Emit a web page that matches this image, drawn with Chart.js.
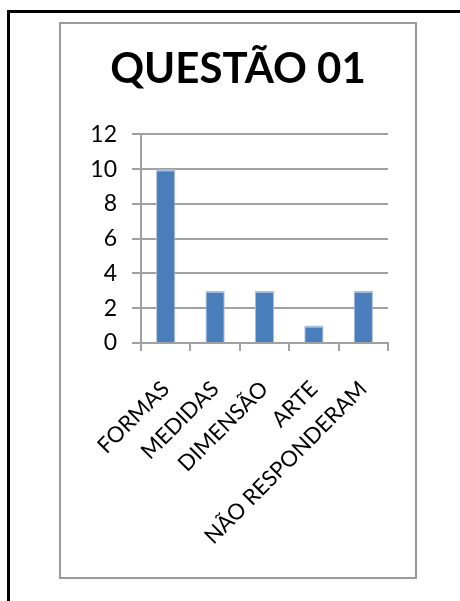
<!DOCTYPE html>
<html>
<head>
<meta charset="utf-8">
<script src="https://cdn.jsdelivr.net/npm/chart.js@4"></script>
<style>
  html, body { margin: 0; padding: 0; background: #fff; }
  body { width: 460px; height: 601px; position: relative; overflow: hidden; }
  #frame { position: absolute; left: 7px; top: 10px; width: 460px; height: 600px;
           border-top: 3px solid #000; border-left: 3px solid #000; }
  #box { position: absolute; left: 59px; top: 22px; width: 354px; height: 553px;
         border: 2px solid #9a9a9a; background: #fff; }
  canvas { display: block; }
</style>
</head>
<body>
<div id="frame"></div>
<div id="box"><canvas id="myChart1" width="354" height="553"></canvas></div>
<script>
var labels = ["FORMAS", "MEDIDAS", "DIMENSÃO", "ARTE", "NÃO RESPONDERAM"];
var values = [10, 3, 3, 1, 3];
var yTicks = [0, 2, 4, 6, 8, 10, 12];

var gridGray = "#a0a0a0";

new Chart(document.getElementById("myChart1"), {
  type: "bar",
  data: {
    labels: labels,
    datasets: [
      {
        label: "QUESTÃO 01",
        backgroundColor: "#4a7ebb",
        borderColor: "#a9c0de",
        borderWidth: { top: 2, left: 1, right: 1, bottom: 0 },
        barPercentage: 0.39,
        categoryPercentage: 1,
        data: values,
      },
    ],
  },
  options: {
    responsive: false,
    animation: false,
    layout: { padding: 0 },
    plugins: {
      legend: { display: false },
      tooltip: { enabled: false },
      title: {
        display: true,
        text: "QUESTÃO 01",
        color: "#000",
        font: { family: "Lato", size: 42, weight: "bold", lineHeight: 1.2 },
        padding: { top: 20, bottom: 40 },
      },
    },
    scales: {
      x: {
        grid: {
          display: true,
          drawOnChartArea: false,
          drawTicks: true,
          tickLength: 8,
          color: gridGray,
          lineWidth: 2,
          offset: true,
        },
        border: { color: gridGray, width: 2 },
        ticks: {
          autoSkip: false,
          minRotation: 45,
          maxRotation: 45,
          padding: 25,
          color: "#000",
          font: { family: "Lato", size: 22 },
        },
        afterFit: function (scale) {
          scale.height = 234;
        },
      },
      y: {
        min: 0,
        max: 12,
        afterBuildTicks: function (scale) {
          scale.ticks = yTicks.map(function (v) { return { value: v }; });
        },
        grid: {
          color: gridGray,
          lineWidth: 2,
          tickLength: 9,
        },
        border: { color: gridGray, width: 2 },
        ticks: {
          padding: 15,
          color: "#000",
          font: { family: "Lato", size: 23 },
        },
        afterFit: function (scale) {
          scale.width = 80;
        },
      },
      // empty right-hand axis that only reserves the white margin
      yRight: {
        position: "right",
        grid: { display: false },
        border: { display: false },
        ticks: { display: false },
        afterFit: function (scale) {
          scale.width = 27;
        },
      },
    },
  },
});
</script>
</body>
</html>
